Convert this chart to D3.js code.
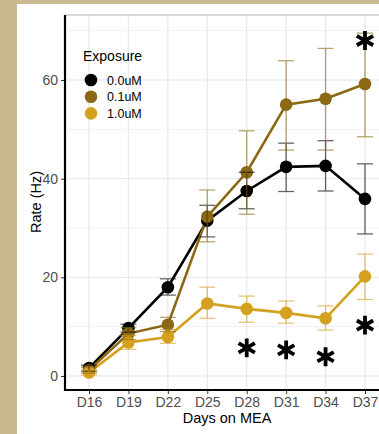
<!DOCTYPE html>
<html>
<head>
<meta charset="utf-8">
<script src="https://cdn.jsdelivr.net/npm/d3@7"></script>
<style>
  body { margin: 0; background: #c9b991; }
  svg { display: block; font-family: "Liberation Sans", Arial, sans-serif; }
</style>
</head>
<body>
<div class="chart"></div>
<script>
var days = ["D16", "D19", "D22", "D25", "D28", "D31", "D34", "D37"];
var groups = ["0.0uM", "0.1uM", "1.0uM"];
var colors = ["#000000", "#8b6914", "#d4a020"];

var mean0 = [1.6, 9.7, 18.0, 31.5, 37.5, 42.4, 42.6, 35.9];
var lo0   = [1.0, 8.9, 16.4, 28.2, 33.9, 37.4, 37.5, 28.8];
var hi0   = [2.2, 10.5, 19.7, 34.6, 41.3, 47.2, 47.7, 43.0];

var mean1 = [1.2, 8.6, 10.4, 32.3, 41.3, 55.0, 56.2, 59.2];
var lo1   = [0.6, 7.4, 9.0, 27.2, 32.8, 45.8, 45.8, 48.5];
var hi1   = [1.8, 9.8, 11.9, 37.7, 49.7, 63.9, 66.4, 69.5];

var mean2 = [0.7, 6.8, 7.9, 14.7, 13.6, 12.8, 11.7, 20.2];
var lo2   = [0.2, 5.4, 6.6, 11.7, 10.9, 10.7, 9.3, 15.5];
var hi2   = [1.2, 8.2, 9.4, 18.0, 16.2, 15.2, 14.2, 24.7];

var yTicks = [0, 20, 40, 60];
var yMinor = [10, 30, 50, 70];

// significance stars: day, y value
var starDays = ["D28", "D31", "D34", "D37", "D37"];
var starVals = [5.7, 5.3, 3.9, 10.3, 68];

var svgWidth = 379;
var svgHeight = 434;

var svg = d3.select(".chart")
    .append("svg")
    .attr("width", svgWidth)
    .attr("height", svgHeight);

// white panel
svg.append("rect")
    .attr("x", 17).attr("y", 4)
    .attr("width", svgWidth - 17).attr("height", svgHeight - 4)
    .attr("fill", "#ffffff");

var x = d3.scalePoint().domain(days).range([89, 365]);
var y = d3.scaleLinear().domain([0, 60]).range([376, 80]);

var plotLeft = 65, plotRight = 379, plotTop = 15, plotBottom = 390;

var series = [
    { name: groups[0], color: colors[0], mean: mean0, lo: lo0, hi: hi0 },
    { name: groups[1], color: colors[1], mean: mean1, lo: lo1, hi: hi1 },
    { name: groups[2], color: colors[2], mean: mean2, lo: lo2, hi: hi2 }
];

// grid
var grid = svg.append("g");
grid.selectAll(".minor")
    .data(yMinor)
    .enter().append("line")
    .attr("x1", plotLeft).attr("x2", plotRight)
    .attr("y1", d => y(d)).attr("y2", d => y(d))
    .attr("stroke", "#f0f0f0").attr("stroke-width", 1);
grid.selectAll(".major")
    .data(yTicks)
    .enter().append("line")
    .attr("x1", plotLeft).attr("x2", plotRight)
    .attr("y1", d => y(d)).attr("y2", d => y(d))
    .attr("stroke", "#ebebeb").attr("stroke-width", 1.4);
grid.selectAll(".vert")
    .data(days)
    .enter().append("line")
    .attr("x1", d => x(d)).attr("x2", d => x(d))
    .attr("y1", plotTop).attr("y2", plotBottom)
    .attr("stroke", "#ebebeb").attr("stroke-width", 1.4);

// top border
svg.append("line")
    .attr("x1", plotLeft).attr("x2", plotRight)
    .attr("y1", plotTop).attr("y2", plotTop)
    .attr("stroke", "#cccccc").attr("stroke-width", 1.5);

var line = d3.line()
    .x((d, i) => x(days[i]))
    .y(d => y(d));

var chart = svg.append("g");

series.forEach(function(s) {
    chart.append("path")
        .datum(s.mean)
        .attr("d", line)
        .attr("fill", "none")
        .attr("stroke", s.color)
        .attr("stroke-width", 2.6);
});

series.forEach(function(s) {
    chart.selectAll(null)
        .data(s.mean)
        .enter().append("circle")
        .attr("cx", (d, i) => x(days[i]))
        .attr("cy", d => y(d))
        .attr("r", 6.3)
        .attr("fill", s.color);
});

series.forEach(function(s) {
    var g = chart.append("g")
        .attr("stroke", s.color)
        .attr("stroke-width", 1.3)
        .attr("opacity", 0.6);
    days.forEach(function(day, i) {
        var cx = x(day);
        g.append("line").attr("x1", cx).attr("x2", cx)
            .attr("y1", y(s.lo[i])).attr("y2", y(s.hi[i]));
        g.append("line").attr("x1", cx - 8).attr("x2", cx + 8)
            .attr("y1", y(s.lo[i])).attr("y2", y(s.lo[i]));
        g.append("line").attr("x1", cx - 8).attr("x2", cx + 8)
            .attr("y1", y(s.hi[i])).attr("y2", y(s.hi[i]));
    });
});

// stars
var star = d3.symbol().type(d3.symbolAsterisk).size(250);
chart.selectAll(".star")
    .data(starVals)
    .enter().append("path")
    .attr("transform", (d, i) => "translate(" + x(starDays[i]) + "," + y(d) + ")")
    .attr("d", star)
    .attr("fill", "none")
    .attr("stroke", "#000")
    .attr("stroke-width", 3.8);

// axes
var leftAxis = d3.axisLeft(y).tickValues(yTicks).tickSize(4).tickPadding(3);
var bottomAxis = d3.axisBottom(x).tickSize(4).tickPadding(3);

var gy = svg.append("g")
    .attr("transform", "translate(" + plotLeft + ",0)")
    .call(leftAxis);
gy.select(".domain").remove();
gy.selectAll("line").attr("stroke", "#333333");
gy.selectAll("text").attr("font-size", 14).attr("fill", "#4d4d4d")
    .attr("font-family", "Liberation Sans, Arial, sans-serif");

var gx = svg.append("g")
    .attr("transform", "translate(0," + plotBottom + ")")
    .call(bottomAxis);
gx.select(".domain").remove();
gx.selectAll("line").attr("stroke", "#333333");
gx.selectAll("text").attr("font-size", 14).attr("fill", "#4d4d4d")
    .attr("font-family", "Liberation Sans, Arial, sans-serif");

svg.append("line")
    .attr("x1", plotLeft).attr("x2", plotRight)
    .attr("y1", plotBottom).attr("y2", plotBottom)
    .attr("stroke", "#000").attr("stroke-width", 2.2);
svg.append("line")
    .attr("x1", plotLeft).attr("x2", plotLeft)
    .attr("y1", plotTop).attr("y2", plotBottom + 1)
    .attr("stroke", "#000").attr("stroke-width", 2.2);

svg.append("text")
    .attr("x", 227).attr("y", 423)
    .attr("text-anchor", "middle")
    .attr("font-size", 14.5)
    .attr("fill", "#000")
    .text("Days on MEA");

svg.append("text")
    .attr("transform", "translate(41,202) rotate(-90)")
    .attr("text-anchor", "middle")
    .attr("font-size", 14.5)
    .attr("fill", "#000")
    .text("Rate (Hz)");

// legend
var legend = svg.append("g");
legend.append("text")
    .attr("x", 83).attr("y", 61)
    .attr("font-size", 14)
    .attr("fill", "#000")
    .text("Exposure");
var items = legend.selectAll(".item")
    .data(series)
    .enter().append("g")
    .attr("transform", (d, i) => "translate(0," + (80 + i * 16.7) + ")");
items.append("circle")
    .attr("cx", 91).attr("cy", 0).attr("r", 6.3)
    .attr("fill", d => d.color);
items.append("text")
    .attr("x", 107).attr("y", 4.5)
    .attr("font-size", 12.5)
    .attr("fill", "#000")
    .text(d => d.name);
</script>
</body>
</html>
